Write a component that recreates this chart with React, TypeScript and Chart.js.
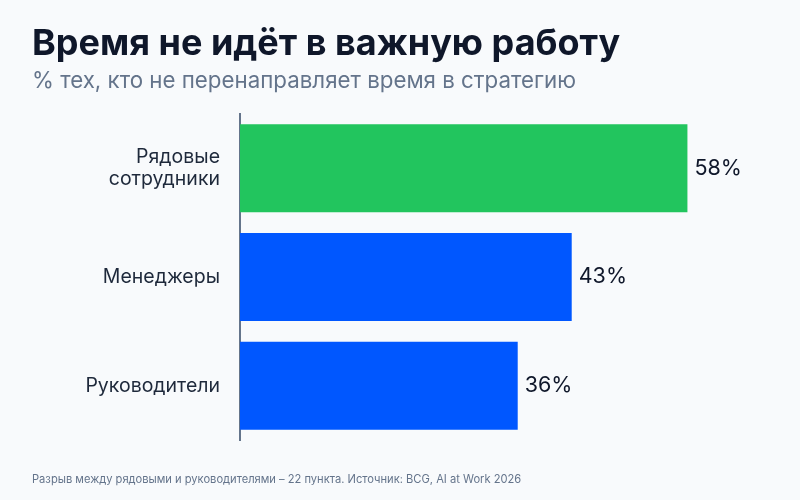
import React, { useEffect, useRef } from "react";
import { Chart, registerables } from "chart.js";

Chart.register(...registerables);

const categories: (string | string[])[] = [["Рядовые", "сотрудники"], "Менеджеры", "Руководители"];
const values = [58, 43, 36];
const barColors = ["#22c55e", "#0057ff", "#0057ff"];
const titleText = "Время не идёт в важную работу";
const subtitleText = "% тех, кто не перенаправляет время в стратегию";
const footerText = "Разрыв между рядовыми и руководителями – 22 пункта. Источник: BCG, AI at Work 2026";

const FONT = "Inter, 'Noto Sans', sans-serif";

const textPlugin = {
  id: "texts",
  beforeDraw(chart: any) {
    const ctx = chart.ctx;
    ctx.save();
    ctx.fillStyle = "#f8fafc";
    ctx.fillRect(0, 0, chart.width, chart.height);
    ctx.restore();
  },
  afterDraw(chart: any) {
    const ctx = chart.ctx;
    ctx.save();
    ctx.textAlign = "left";
    ctx.textBaseline = "alphabetic";
    ctx.fillStyle = "#0f172a";
    ctx.font = `bold 36px ${FONT}`;
    ctx.fillText(titleText, 32, 55);
    ctx.fillStyle = "#64748b";
    ctx.font = `22.3px ${FONT}`;
    ctx.fillText(subtitleText, 32, 88);
    ctx.font = `11.15px ${FONT}`;
    ctx.fillText(footerText, 32, 483);

    const meta = chart.getDatasetMeta(0);
    ctx.fillStyle = "#0f172a";
    ctx.font = `21.5px ${FONT}`;
    ctx.textBaseline = "middle";
    meta.data.forEach((bar: any, i: number) => {
      ctx.fillText(values[i] + "%", bar.x + 7, bar.y);
    });
    ctx.restore();
  },
};

export default function App() {
  const ref = useRef<HTMLCanvasElement>(null);
  useEffect(() => {
    if (!ref.current) return;
    const chart = new Chart(ref.current, {
      type: "bar",
      data: {
        labels: categories,
        datasets: [
          {
            data: values,
            backgroundColor: barColors,
            borderWidth: 0,
            categoryPercentage: 0.9,
            barPercentage: 0.9,
          },
        ],
      },
      options: {
        indexAxis: "y",
        responsive: false,
        animation: false,
        layout: { padding: { top: 114, left: 32, right: 20, bottom: 60 } },
        plugins: {
          legend: { display: false },
          tooltip: { enabled: false },
          title: { display: false },
        },
        scales: {
          x: {
            display: false,
            min: 0,
            max: 70,
          },
          y: {
            afterFit(scale: any) {
              scale.width = 208;
            },
            grid: { display: false, drawTicks: false },
            border: { display: true, color: "#64748b", width: 2 },
            ticks: {
              padding: 20,
              color: "#1e293b",
              font: { family: FONT, size: 19.5, lineHeight: 1.13 },
            },
          },
        },
      },
      plugins: [textPlugin],
    });
    return () => chart.destroy();
  }, []);
  return (
    <div style={{ position: "fixed", left: 0, top: 0, width: 800, height: 500, background: "#f8fafc" }}>
      <canvas ref={ref} width={800} height={500} />
    </div>
  );
}
